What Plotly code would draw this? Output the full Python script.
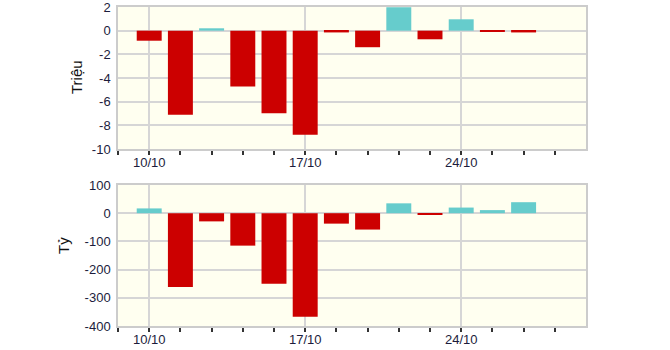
import plotly.graph_objects as go
from plotly.subplots import make_subplots

dates = ["10/10", "11/10", "12/10", "13/10", "14/10", "17/10", "18/10",
         "19/10", "20/10", "21/10", "24/10", "25/10", "26/10"]
axis_days = ["07/10", "10/10", "11/10", "12/10", "13/10", "14/10", "17/10", "18/10",
             "19/10", "20/10", "21/10", "24/10", "25/10", "26/10", "27/10", "28/10"]
trieu = [-0.85, -7.1, 0.2, -4.73, -6.98, -8.79, -0.15, -1.4, 1.98, -0.73, 0.96, -0.08, -0.15]
ty = [17, -262, -29, -115, -250, -367, -37, -58, 35, -3, 20, 11, 39]
labeled = ["10/10", "17/10", "24/10"]

RED = "#CC0000"
CYAN = "#66CCCC"

pos = {d: i - 1 for i, d in enumerate(axis_days)}
xs = [pos[d] for d in dates]

fig = make_subplots(rows=2, cols=1, vertical_spacing=0.0)

for row, vals in ((1, trieu), (2, ty)):
    fig.add_trace(go.Bar(
        x=xs, y=vals, width=0.8,
        marker=dict(color=[CYAN if v > 0 else RED for v in vals],
                    line=dict(width=0)),
        showlegend=False, hoverinfo="skip"), row=row, col=1)

tick_font = dict(family="Liberation Sans, Arial, sans-serif", size=13, color="#1c1c3c")
grid = "#D6D6D6"
for r in (1, 2):
    fig.update_xaxes(
        row=r, col=1,
        range=[-1, pos["28/10"]],
        tickvals=[pos[d] for d in labeled], ticktext=labeled,
        ticks="outside", ticklen=4, tickcolor="#333333", tickwidth=1.5,
        showgrid=True, gridcolor=grid, gridwidth=1.5,
        showline=True, linecolor="#CCCCCC", linewidth=1.5, mirror=True,
        zeroline=False, tickfont=tick_font, automargin=False,
        ticklabeloverflow="allow", ticklabelstandoff=-3,
        minor=dict(tickvals=[pos[d] for d in axis_days[:-1]], ticks="outside",
                   ticklen=4, tickcolor="#333333", tickwidth=1.5, showgrid=False),
    )
fig.update_yaxes(row=1, col=1, range=[-10, 2], tickvals=[-10, -8, -6, -4, -2, 0, 2],
                 ticktext=["-10", "-8", "-6", "-4", "-2", "0", "2"])
fig.update_yaxes(row=2, col=1, range=[-400, 100], tickvals=[-400, -300, -200, -100, 0, 100],
                 ticktext=["-400", "-300", "-200", "-100", "0", "100"])
fig.update_yaxes(showgrid=True, gridcolor=grid, gridwidth=1.5, zeroline=False,
                 showline=True, linecolor="#CCCCCC", linewidth=1.5, mirror=True,
                 ticks="", tickfont=tick_font, ticklabelstandoff=3, automargin=False,
                 ticklabeloverflow="allow")

title_font = dict(family="Liberation Sans, Arial, sans-serif", size=15, color="#111111")
fig.update_layout(
    yaxis=dict(domain=[0.555, 1.0]),
    yaxis2=dict(domain=[0.0, 0.442]),
    width=670, height=350,
    margin=dict(l=118, r=84, t=7, b=24, autoexpand=False),
    plot_bgcolor="#FFFFF0", paper_bgcolor="white",
    annotations=[
        dict(text="Triệu", x=76, y=77, xref="paper", yref="paper", showarrow=False,
             xanchor="center", yanchor="middle", textangle=-90, font=title_font),
        dict(text="Tỷ", x=63, y=246, xref="paper", yref="paper", showarrow=False,
             xanchor="center", yanchor="middle", textangle=-90, font=title_font),
    ],
)
pw, ph = 670 - 118 - 84, 350 - 7 - 24
for a in fig.layout.annotations:
    a.x = (a.x - 118) / pw
    a.y = (350 - 24 - a.y) / ph

fig.write_html("out.html")
